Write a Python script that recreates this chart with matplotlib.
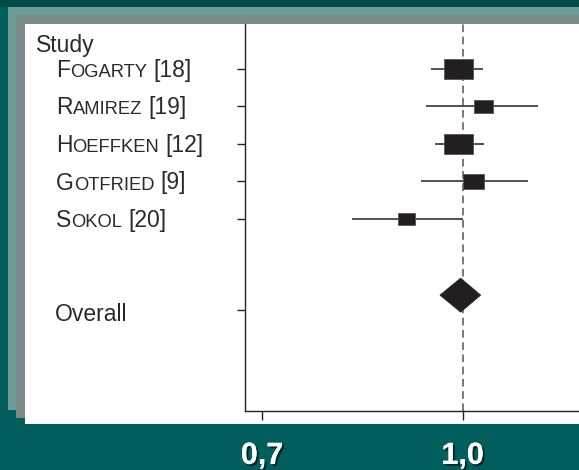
import matplotlib
matplotlib.use("Agg")
import matplotlib.pyplot as plt
import matplotlib.patches as mpatches
import matplotlib.transforms as mtransforms
import matplotlib.patheffects as pe
import numpy as np

# ---- data ----
studies = ["Fogarty", "Ramirez", "Hoeffken", "Gotfried", "Sokol"]
refs = [18, 19, 12, 9, 20]
estimate = [0.994, 1.031, 0.994, 1.016, 0.916]
ci_low = [0.952, 0.945, 0.958, 0.937, 0.834]
ci_high = [1.030, 1.112, 1.032, 1.098, 1.000]
weights = [29, 13, 29, 15, 10]
overall_est = 0.997
overall_low = 0.966
overall_high = 1.027
xtick_values = [0.7, 1.0]
xtick_labels = ["0,7", "1,0"]

W, H = 579, 470
DPI = 100
plt.rcParams['font.family'] = ['Liberation Sans', 'DejaVu Sans']

fig = plt.figure(figsize=(W / DPI, H / DPI), dpi=DPI, facecolor="#005F5C")


def px_rect(x0, y0, x1, y1, color):
    """Rectangle given in pixel coords measured from the top-left corner."""
    r = mpatches.Rectangle((x0 / W, 1 - y1 / H), (x1 - x0) / W, (y1 - y0) / H,
                           transform=fig.transFigure, facecolor=color,
                           edgecolor="none", zorder=-5)
    fig.patches.append(r)


# slide frame behind the chart panel
px_rect(0, 0, W, 7, "#004A48")
px_rect(8, 7, W, 410, "#6E9D99")
px_rect(16, 15, W, 418, "#7B8B89")
px_rect(25, 24, W, 424, "#FFFFFF")

# axes area
ax_l, ax_r, ax_t, ax_b = 245, 579, 24, 411
ax = fig.add_axes([ax_l / W, 1 - ax_b / H, (ax_r - ax_l) / W, (ax_b - ax_t) / H])
ax.set_facecolor("none")
ax.set_xlim(0.6745, 1.174)
rows = np.arange(1, len(studies) + 1)
overall_row = 7.43
ax.set_ylim(10.12, -0.2)

for s in ["top", "right"]:
    ax.spines[s].set_visible(False)
for s in ["left", "bottom"]:
    ax.spines[s].set_color("#222222")
    ax.spines[s].set_linewidth(1.0)

# reference line at 1.0
ax.axvline(1.0, color="#555555", lw=1.1, dashes=(5, 3), zorder=1)

# pixel -> data scales
sx = (ax.get_xlim()[1] - ax.get_xlim()[0]) / (ax_r - ax_l)
sy = abs(ax.get_ylim()[0] - ax.get_ylim()[1]) / (ax_b - ax_t)

ink = "#231F20"
for y, est, lo, hi, w in zip(rows, estimate, ci_low, ci_high, weights):
    ax.plot([lo, hi], [y, y], color="#333333", lw=1.2, solid_capstyle="butt", zorder=2)
    h_px = 20 * np.sqrt(w / 29)
    w_px = 1.45 * h_px
    ax.add_patch(mpatches.Rectangle((est - w_px * sx / 2, y - h_px * sy / 2),
                                    w_px * sx, h_px * sy, facecolor=ink,
                                    edgecolor="#555555", lw=0.6, zorder=3))

# pooled estimate diamond
dy = 0.4
half_h = 17 * sy
diamond = mpatches.Polygon([[overall_low, overall_row - dy],
                            [overall_est, overall_row - dy - half_h],
                            [overall_high, overall_row - dy],
                            [overall_est, overall_row - dy + half_h]],
                           closed=True, facecolor=ink, edgecolor=ink, lw=0.5, zorder=3)
ax.add_patch(diamond)

# ticks
ax.set_yticks(list(rows) + [overall_row])
ax.set_yticklabels([])
ax.tick_params(axis="y", direction="out", length=6, width=1.0, color="#222222")
ax.set_xticks(xtick_values)
ax.set_xticklabels(xtick_labels)
ax.tick_params(axis="x", direction="out", length=6.5, width=1.0, color="#222222",
               pad=15, labelsize=22, labelcolor="white")
for lab in ax.get_xticklabels():
    lab.set_fontweight("bold")
    lab.set_path_effects([pe.withSimplePatchShadow(offset=(1.5, -1.5),
                                                   shadow_rgbFace="#002422", alpha=0.9),
                          pe.Normal()])

# row labels
text_color = "#2A2A2A"
L = 16.5
S = L * 0.8
renderer = fig.canvas.get_renderer()
label_x = 56


def draw_pieces(pieces, y_data, x_px, dy_px=8):
    x = x_px
    for txt, size in pieces:
        tr = mtransforms.blended_transform_factory(fig.transFigure, ax.transData) + \
            mtransforms.ScaledTranslation(0, -dy_px / DPI, fig.dpi_scale_trans)
        lead = 0
        if txt.startswith(" "):
            txt = txt.lstrip()
            lead = 0.278 * size * DPI / 72
        t = fig.text((x + lead) / W, y_data, txt, fontsize=size, color=text_color,
                     ha="left", va="baseline", transform=tr)
        bb = t.get_window_extent(renderer)
        x = bb.x1


for name, ref, y in zip(studies, refs, rows):
    draw_pieces([(name[0].upper(), L), (name[1:].upper(), S), (f" [{ref}]", L)], y, label_x)
draw_pieces([("Overall", L)], overall_row, 55, dy_px=11)

fig.text(36 / W, 1 - 52 / H, "Study", fontsize=L, color=text_color, ha="left", va="baseline")

fig.savefig("out.png", dpi=DPI, facecolor=fig.get_facecolor())
